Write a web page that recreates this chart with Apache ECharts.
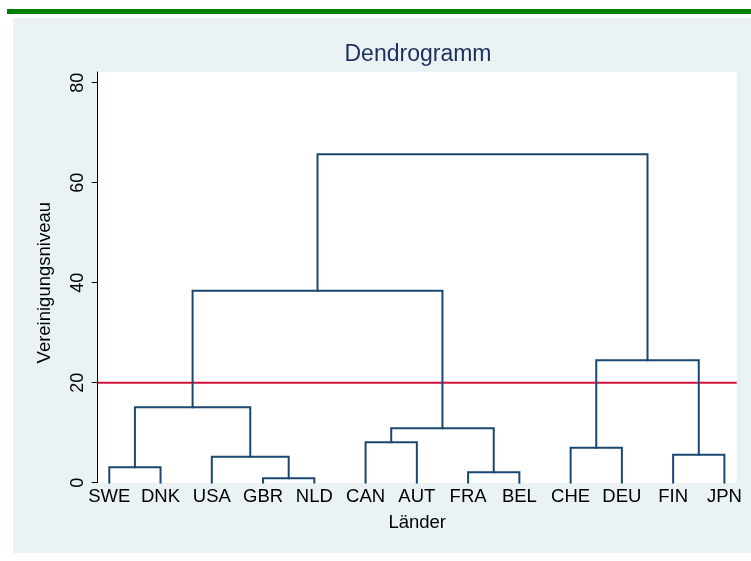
<!DOCTYPE html>
<html>
<head>
<meta charset="utf-8">
<script src="https://cdn.jsdelivr.net/npm/echarts@6/dist/echarts.min.js"></script>
<style>
html,body{margin:0;padding:0;background:#fff;}
#chart{width:751px;height:561px;}
</style>
</head>
<body>
<div id="chart"></div>
<script>
// Leaves (countries) in dendrogram order
const countries = ['SWE','DNK','USA','GBR','NLD','CAN','AUT','FRA','BEL','CHE','DEU','FIN','JPN'];
// Merges: child ids (0..12 = leaves, 13+k = merge k) and fusion level
const mergeLeft   = [0, 3, 2, 13, 5, 7, 17,  16,  9, 11, 21, 20];
const mergeRight  = [1, 4, 14, 15, 6, 8, 18, 19, 10, 12, 22, 23];
const mergeHeight = [3.1, 0.9, 5.2, 15.1, 8.1, 2.1, 10.9, 38.4, 7.0, 5.6, 24.5, 65.7];
// Cut level
const cutLevel = 20;
// Y tick labels
const yTicks = [0, 20, 40, 60, 80];

// dendrogram layout: leaf positions 1..n, merge position = midpoint of children
const nodeX = countries.map((c, i) => i + 1);
const nodeH = countries.map(() => 0);
const linkSeries = [];
mergeLeft.forEach((a, k) => {
  const b = mergeRight[k], h = mergeHeight[k];
  const xa = nodeX[a], xb = nodeX[b];
  linkSeries.push({
    type: 'line',
    data: [[xa, nodeH[a]], [xa, h], [xb, h], [xb, nodeH[b]]],
    showSymbol: false,
    symbol: 'none',
    lineStyle: { color: '#1a476f', width: 2, join: 'miter', cap: 'square' },
    silent: true,
    z: 3
  });
  nodeX.push((xa + xb) / 2);
  nodeH.push(h);
});

const xMin = 0.774, xMax = 13.24;
const font = 'Liberation Sans, Arial, sans-serif';

const chart = echarts.init(document.getElementById('chart'), null, { renderer: 'canvas' });
chart.setOption({
  animation: false,
  backgroundColor: '#ffffff',
  graphic: [
    { type: 'rect', shape: { x: 13, y: 18, width: 738, height: 535 }, style: { fill: '#eaf2f3' }, z: -10, silent: true },
    { type: 'rect', shape: { x: 7, y: 9, width: 744, height: 5 }, style: { fill: '#008000' }, z: -10, silent: true },
    { type: 'text', x: 418, y: 55, style: { text: 'Dendrogramm', fill: '#1c2f5e', font: '23px ' + font, textAlign: 'center', textVerticalAlign: 'middle' }, z: 10 },
    { type: 'text', x: 45, y: 282.7, rotation: Math.PI / 2, style: { text: 'Vereinigungsniveau', fill: '#000', font: '18.5px ' + font, textAlign: 'center', textVerticalAlign: 'middle' }, z: 10 }
  ],
  grid: {
    left: 97.7, right: 14.3, top: 72, bottom: 78.3,
    show: true, backgroundColor: '#ffffff', borderWidth: 0
  },
  xAxis: {
    type: 'value', min: xMin, max: xMax,
    name: 'Länder', nameLocation: 'middle', nameGap: 31,
    nameTextStyle: { color: '#000', fontSize: 18.5, fontFamily: font },
    axisLine: { show: false },
    axisTick: { show: false },
    splitLine: { show: false },
    axisLabel: {
      customValues: countries.map((c, i) => i + 1),
      formatter: v => countries[Math.round(v) - 1] || '',
      color: '#000', fontSize: 18.5, fontFamily: font, margin: 5
    }
  },
  yAxis: {
    type: 'value', min: 0, max: 82.14,
    axisLine: { show: true, lineStyle: { color: '#000', width: 1 } },
    axisTick: { show: true, customValues: yTicks, length: 6, lineStyle: { color: '#000', width: 1 } },
    axisLabel: { customValues: yTicks, rotate: 90, color: '#000', fontSize: 18, fontFamily: font, margin: 11 },
    splitLine: { show: false }
  },
  series: [
    {
      type: 'line',
      data: [[xMin, cutLevel], [xMax, cutLevel]],
      showSymbol: false, symbol: 'none',
      lineStyle: { color: '#d0103c', width: 2 },
      silent: true, z: 2
    }
  ].concat(linkSeries)
});
</script>
</body>
</html>
